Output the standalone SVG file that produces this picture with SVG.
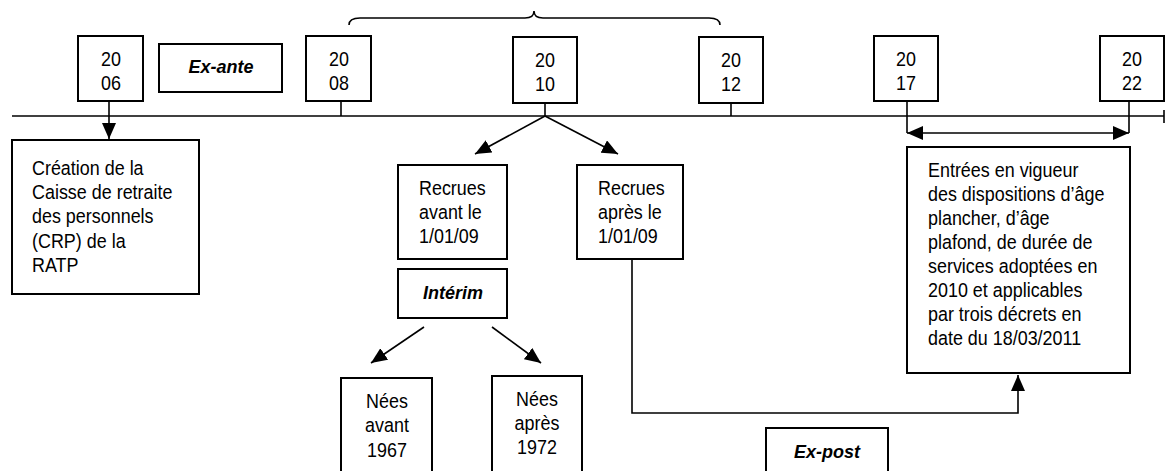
<svg xmlns="http://www.w3.org/2000/svg" width="1165" height="471" viewBox="0 0 1165 471">
  <style>
    .box { fill: #fff; stroke: #000; stroke-width: 2; }
    .ln { fill: none; stroke: #000; stroke-width: 1.6; }
    text { font-family: "Liberation Sans", Arial, sans-serif; font-size: 19.5px; fill: #000;
           transform-box: fill-box; transform-origin: left center; transform: scaleX(0.92); }
    .c { text-anchor: middle; transform-origin: center; }
    .bi { font-weight: bold; font-style: italic; font-size: 18px; transform: none; }
  </style>
  <defs>
    <marker id="ah" viewBox="0 0 16 14" refX="16" refY="7" markerWidth="16" markerHeight="14" markerUnits="userSpaceOnUse" orient="auto-start-reverse">
      <path d="M0,0 L16,7 L0,14 Z" fill="#000"/>
    </marker>
  </defs>

  <!-- timeline and connectors -->
  <g id="connectors">
    <line class="ln" x1="12" y1="116" x2="1164" y2="116"/>
    <line class="ln" x1="1164" y1="110" x2="1164" y2="123"/>
    <!-- brace over 2008-2012 -->
    <path class="ln" d="M349,25 Q349,18 360,18 L525,18 Q534,18 534,11 Q534,18 543,18 L709,18 Q720,18 720,25"/>
    <!-- year ticks -->
    <line class="ln" x1="341" y1="101" x2="341" y2="116"/>
    <line class="ln" x1="545" y1="103" x2="545" y2="116"/>
    <line class="ln" x1="731" y1="103" x2="731" y2="116"/>
    <line class="ln" x1="907" y1="101" x2="907" y2="133"/>
    <line class="ln" x1="1129" y1="101" x2="1129" y2="133"/>
    <!-- 2006 to creation -->
    <line class="ln" x1="109" y1="101" x2="109" y2="139" marker-end="url(#ah)"/>
    <!-- 2010 split -->
    <line class="ln" x1="545" y1="116" x2="475" y2="154" marker-end="url(#ah)"/>
    <line class="ln" x1="545" y1="116" x2="618" y2="154" marker-end="url(#ah)"/>
    <!-- 2017-2022 span -->
    <line class="ln" x1="907" y1="133" x2="1129" y2="133" marker-start="url(#ah)" marker-end="url(#ah)"/>
    <!-- interim split -->
    <line class="ln" x1="424" y1="327" x2="371" y2="363" marker-end="url(#ah)"/>
    <line class="ln" x1="492" y1="327" x2="541" y2="363" marker-end="url(#ah)"/>
    <!-- recrues apres to decrees -->
    <path class="ln" d="M632,259 L632,413 L1018,413 L1018,375" marker-end="url(#ah)"/>
  </g>

  <g id="y2006"><rect class="box" x="78" y="36" width="65" height="65"/><text class="c" x="111" y="66">20</text><text class="c" x="111" y="90">06</text></g>
  <g id="exante"><rect class="box" x="159" y="44" width="123" height="48"/><text class="c bi" x="221" y="73">Ex-ante</text></g>
  <g id="y2008"><rect class="box" x="306" y="36" width="65" height="65"/><text class="c" x="339" y="66">20</text><text class="c" x="339" y="90">08</text></g>
  <g id="y2010"><rect class="box" x="513" y="37" width="64" height="66"/><text class="c" x="545" y="67">20</text><text class="c" x="545" y="91">10</text></g>
  <g id="y2012"><rect class="box" x="699" y="37" width="64" height="66"/><text class="c" x="731" y="67">20</text><text class="c" x="731" y="91">12</text></g>
  <g id="y2017"><rect class="box" x="874" y="36" width="64" height="65"/><text class="c" x="906" y="66">20</text><text class="c" x="906" y="90">17</text></g>
  <g id="y2022"><rect class="box" x="1100" y="36" width="64" height="65"/><text class="c" x="1132" y="66">20</text><text class="c" x="1132" y="90">22</text></g>

  <g id="creation">
    <rect class="box" x="12" y="140" width="187" height="154"/>
    <text x="32" y="175">Création de la</text>
    <text x="32" y="199">Caisse de retraite</text>
    <text x="32" y="223">des personnels</text>
    <text x="32" y="248">(CRP) de la</text>
    <text x="32" y="272">RATP</text>
  </g>

  <g id="recrues-avant">
    <rect class="box" x="398" y="165" width="109" height="94"/>
    <text x="419" y="195">Recrues</text>
    <text x="419" y="219">avant le</text>
    <text x="419" y="243">1/01/09</text>
  </g>

  <g id="interim"><rect class="box" x="398" y="269" width="109" height="49"/><text class="c bi" x="453" y="299">Intérim</text></g>

  <g id="recrues-apres">
    <rect class="box" x="577" y="165" width="106" height="94"/>
    <text x="598" y="195">Recrues</text>
    <text x="598" y="219">après le</text>
    <text x="598" y="243">1/01/09</text>
  </g>

  <g id="nees-avant">
    <rect class="box" x="341" y="378" width="91" height="100"/>
    <text class="c" x="387" y="408">Nées</text>
    <text class="c" x="387" y="432">avant</text>
    <text class="c" x="387" y="457">1967</text>
  </g>

  <g id="nees-apres">
    <rect class="box" x="492" y="376" width="90" height="102"/>
    <text class="c" x="537" y="406">Nées</text>
    <text class="c" x="537" y="430">après</text>
    <text class="c" x="537" y="454">1972</text>
  </g>

  <g id="decrets">
    <rect class="box" x="907" y="147" width="223" height="226"/>
    <text x="928" y="177">Entrées en vigueur</text>
    <text x="928" y="201">des dispositions d’âge</text>
    <text x="928" y="225">plancher, d’âge</text>
    <text x="928" y="249">plafond, de durée de</text>
    <text x="928" y="273">services adoptées en</text>
    <text x="928" y="297">2010 et applicables</text>
    <text x="928" y="321">par trois décrets en</text>
    <text x="928" y="345">date du 18/03/2011</text>
  </g>

  <g id="expost"><rect class="box" x="766" y="428" width="122" height="50"/><text class="c bi" x="827" y="458">Ex-post</text></g>
</svg>
